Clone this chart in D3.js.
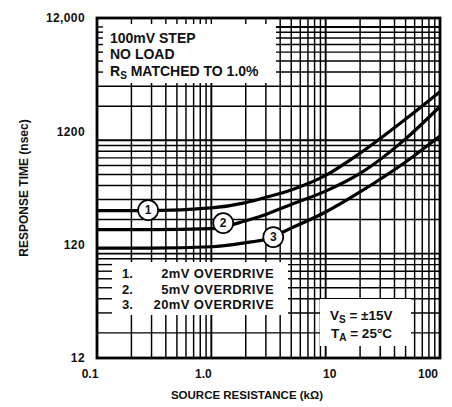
<!DOCTYPE html>
<html><head><meta charset="utf-8">
<script src="https://cdn.jsdelivr.net/npm/d3@7"></script>
<style>
body{margin:0;background:#fff}
text{font-family:"Liberation Sans",Arial,Helvetica,sans-serif;font-weight:bold;fill:#111}
</style>
</head><body>
<svg id="c" width="452" height="407"></svg>
<script>
// ---- data ----
const resistance = [0.1, 0.3, 1, 2, 3, 5, 10, 20, 50, 100];          // kΩ
const overdrive2mV  = [240, 240, 253, 282, 314, 365, 490, 770, 1540, 2690]; // nsec
const overdrive5mV  = [163, 163, 166, 195, 222, 272, 356, 510, 1030, 1989];
const overdrive20mV = [112, 112, 115, 125, 134, 168, 233, 350, 643, 1091];
const seriesNames = ["1", "2", "3"];
const labelR = [0.28, 1.27, 3.48];
const labelT = [242, 186, 140];
const xTicks = [0.1, 1, 10, 100];
const xTickLabels = ["0.1", "1.0", "10", "100"];
const yTicks = [12, 120, 1200, 12000];
const yTickLabels = ["12", "120", "1200", "12,000"];
const legendNums = ["1.", "2.", "3."];
const legendTexts = ["2mV OVERDRIVE", "5mV OVERDRIVE", "20mV OVERDRIVE"];

// ---- layout ----
const L = 97, T = 18, W = 343, H = 340;
const svg = d3.select("#c");
const x = d3.scaleLog().domain([0.1, 100]).range([L, L + W]);
const y = d3.scaleLog().domain([12, 12000]).range([T + H, T]);

// grid values
const xGrid = [];
[0.1, 1, 10].forEach(d => { for (let k = 1; k <= 9; k++) xGrid.push(d * k); });
const yGrid = [];
[10, 100, 1000].forEach(d => { for (let k = 1; k <= 9; k++) { const v = d * k; if (v > 12) yGrid.push(v); } });
yGrid.push(10000);

const g = svg.append("g");
const isDecade = v => Math.abs(Math.log10(v) - Math.round(Math.log10(v))) < 1e-6;

g.selectAll("line.vx").data(xGrid).join("line")
  .attr("x1", d => x(d)).attr("x2", d => x(d)).attr("y1", T).attr("y2", T + H)
  .attr("stroke", "#000").attr("stroke-width", d => isDecade(d) ? 1.9 : 1.45);
g.selectAll("line.hy").data(yGrid).join("line")
  .attr("y1", d => y(d)).attr("y2", d => y(d)).attr("x1", L).attr("x2", L + W)
  .attr("stroke", "#000").attr("stroke-width", d => isDecade(d) ? 1.9 : 1.45);

// white text boxes
const boxes = [
  {x0: L, x1: 276, y0: T, y1: 83, top: true, left: true},
  {x0: L, x1: 288, y0: 262, y1: 315, top: false, left: true},
  {x0: 320, x1: 411, y0: 299, y1: 346, top: false, left: false}
];
boxes.forEach(b => {
  g.append("rect").attr("x", b.x0).attr("y", b.y0).attr("width", b.x1 - b.x0).attr("height", b.y1 - b.y0).attr("fill", "#fff");
  if (b.left) {
    g.selectAll(null).data(yGrid.filter(v => y(v) > b.y0 && y(v) < b.y1)).join("line")
      .attr("x1", L).attr("x2", L + (b.top ? 6 : 15)).attr("y1", d => y(d)).attr("y2", d => y(d))
      .attr("stroke", "#000").attr("stroke-width", 1.4);
  }
  if (b.top) {
    g.selectAll(null).data(xGrid.filter(v => x(v) > b.x0 + 2 && x(v) < b.x1)).join("line")
      .attr("y1", T).attr("y2", T + 6).attr("x1", d => x(d)).attr("x2", d => x(d))
      .attr("stroke", "#000").attr("stroke-width", 1.4);
  }
});

// curves
const series = [overdrive2mV, overdrive5mV, overdrive20mV];
const line = d3.line().x((d, i) => x(resistance[i])).y(d => y(d)).curve(d3.curveMonotoneX);
svg.selectAll("path.curve").data(series).join("path")
  .attr("d", d => line(d)).attr("fill", "none").attr("stroke", "#000").attr("stroke-width", 3.2);

// circle labels
const lab = svg.selectAll("g.lab").data(seriesNames).join("g")
  .attr("transform", (d, i) => `translate(${x(labelR[i])},${y(labelT[i])})`);
lab.append("circle").attr("r", 10).attr("fill", "#fff").attr("stroke", "#000").attr("stroke-width", 1.7);
lab.append("text").attr("text-anchor", "middle").attr("dy", "0.36em").style("font-size", "12px").text(d => d);

// frame
svg.append("rect").attr("x", L).attr("y", T).attr("width", W).attr("height", H)
  .attr("fill", "none").attr("stroke", "#000").attr("stroke-width", 2.8);

// axis labels
svg.selectAll("text.xt").data(xTicks).join("text")
  .attr("x", (d, i) => x(d) + [-7, -8, 4, -12][i]).attr("y", 378).attr("text-anchor", "middle")
  .style("font-size", "12px").text((d, i) => xTickLabels[i]);
svg.selectAll("text.yt").data(yTicks).join("text")
  .attr("x", 85).attr("y", d => y(d)).attr("dy", "0.35em").attr("text-anchor", "end")
  .style("font-size", "12px").style("letter-spacing", "0.4px").text((d, i) => yTickLabels[i]);

svg.append("text").attr("x", 247).attr("y", 399).attr("text-anchor", "middle")
  .style("font-size", "11.5px").text("SOURCE RESISTANCE (kΩ)");
svg.append("text").attr("transform", "translate(28,188) rotate(-90)").attr("text-anchor", "middle")
  .style("font-size", "12px").text("RESPONSE TIME (nsec)");

// annotation block top-left
const t1 = svg.append("g").style("font-size", "14px");
t1.append("text").attr("x", 110).attr("y", 43).text("100mV STEP");
t1.append("text").attr("x", 110).attr("y", 59).text("NO LOAD");
const rs = t1.append("text").attr("x", 110).attr("y", 76);
rs.append("tspan").text("R");
rs.append("tspan").attr("dy", 3).style("font-size", "10px").text("S");
rs.append("tspan").attr("dy", -3).text(" MATCHED TO 1.0%");

// legend
const lg = svg.append("g").style("font-size", "13px");
lg.selectAll("text.n").data(legendNums).join("text")
  .attr("x", 122).attr("y", (d, i) => 278 + i * 15.5).text(d => d);
lg.selectAll("text.l").data(legendTexts).join("text")
  .attr("x", 274).attr("y", (d, i) => 278 + i * 15.5).attr("text-anchor", "end")
  .style("letter-spacing", "0.4px").text(d => d);

// conditions
const cd = svg.append("g").style("font-size", "13.5px");
const v1 = cd.append("text").attr("x", 330).attr("y", 320);
v1.append("tspan").text("V");
v1.append("tspan").attr("dy", 3).style("font-size", "10px").text("S");
v1.append("tspan").attr("dy", -3).text(" = ±15V");
const v2 = cd.append("text").attr("x", 331).attr("y", 338);
v2.append("tspan").text("T");
v2.append("tspan").attr("dy", 3).style("font-size", "10px").text("A");
v2.append("tspan").attr("dy", -3).text(" = 25°C");
</script>
</body></html>
